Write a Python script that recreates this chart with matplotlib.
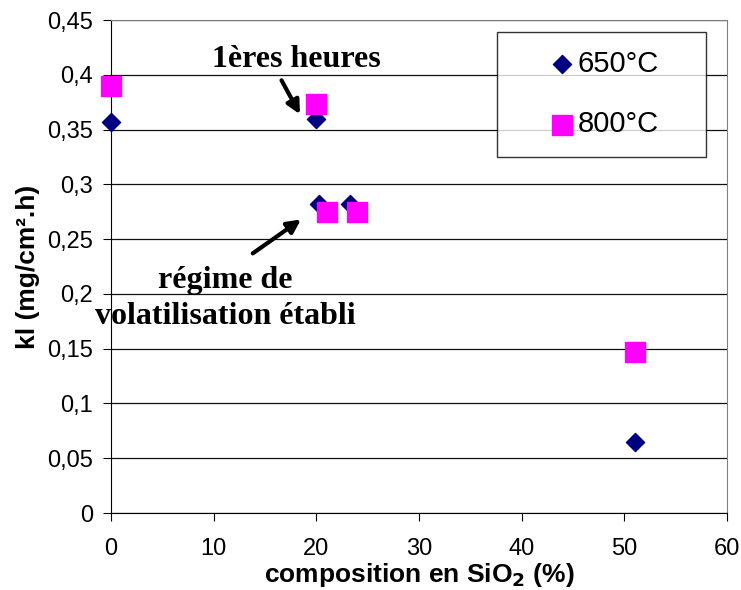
import matplotlib.pyplot as plt
from matplotlib.ticker import FuncFormatter

plt.rcParams['font.family'] = ['Liberation Sans', 'DejaVu Sans']

# data
x_650 = [0, 20, 20.3, 23.3, 51]
y_650 = [0.357, 0.360, 0.282, 0.282, 0.065]
x_800 = [0, 20, 21, 24, 51]
y_800 = [0.390, 0.373, 0.275, 0.275, 0.147]
labels = ['650°C', '800°C']

fig = plt.figure(figsize=(7.41, 5.90), dpi=100)
ax = fig.add_axes([0.150, 0.1305, 0.831, 0.8355])

ax.set_axisbelow(True)
ax.yaxis.grid(True, color='#101010', linewidth=0.9)
ax.scatter(x_650, y_650, marker='D', s=85, color='#000080', label=labels[0],
           zorder=3, clip_on=False)
ax.scatter(x_800, y_800, marker='s', s=200, color='#ff00ff', label=labels[1],
           zorder=4, clip_on=False)

ax.set_xlim(0, 60)
ax.set_ylim(0, 0.45)
ax.set_xticks(range(0, 61, 10))
ax.set_yticks([i * 0.05 for i in range(10)])
ax.yaxis.set_major_formatter(FuncFormatter(lambda v, p: ('%g' % round(v, 2)).replace('.', ',')))
ax.tick_params(direction='out', length=6, labelsize=17, colors='black')
ax.tick_params(axis='x', pad=12)
ax.tick_params(axis='y', pad=7)

for s in ['top', 'right']:
    ax.spines[s].set_color('#808080')
for s in ['left', 'bottom']:
    ax.spines[s].set_color('black')

ax.set_xlabel('composition en SiO$_\\mathbf{2}$ (%)', fontsize=19, fontweight='bold', labelpad=1)
ax.set_ylabel('kl (mg/cm².h)', fontsize=19, fontweight='bold', labelpad=5)

serif = ['Liberation Serif', 'DejaVu Serif']
arrow = dict(arrowstyle='-|>', color='black', lw=3, mutation_scale=20, shrinkA=0, shrinkB=0)
ax.text(18.05, 0.414, '1ères heures', ha='center', va='center',
        fontsize=23, fontweight='bold', family=serif)
ax.annotate('', xy=(18.4, 0.364), xytext=(16.6, 0.395), arrowprops=arrow)
ax.annotate('', xy=(18.5, 0.268), xytext=(13.8, 0.237), arrowprops=arrow)
ax.text(11.1, 0.196, 'régime de\nvolatilisation établi', ha='center', va='center',
        fontsize=23, fontweight='bold', family=serif, linespacing=1.3)

leg = ax.legend(loc='upper left', bbox_to_anchor=(0.6266, 0.7262, 0.339, 0.2495),
                mode='expand', fontsize=21, frameon=True, fancybox=False,
                edgecolor='black', borderpad=0.62, labelspacing=1.11,
                handlelength=3.24, handletextpad=-1.1, borderaxespad=0)
leg.get_frame().set_linewidth(1.0)

fig.savefig('out.png', dpi=100)
